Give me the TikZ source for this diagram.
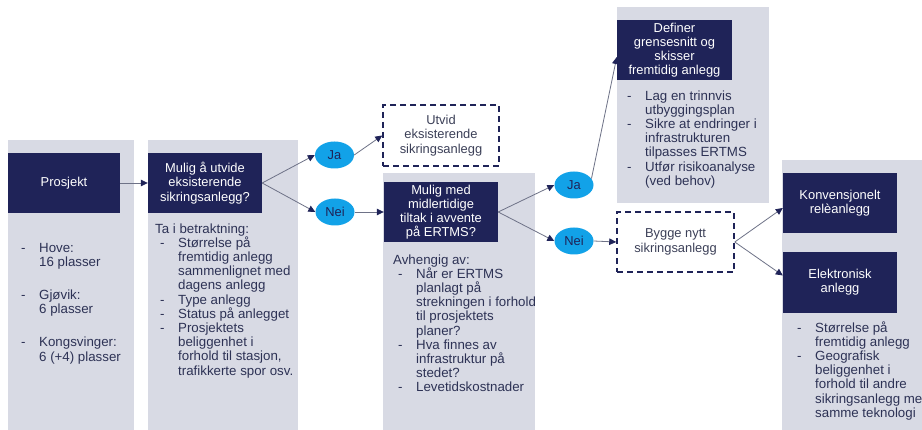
\documentclass[tikz,border=0pt]{standalone}
\usepackage{fontspec}
\setmainfont{Liberation Sans}
\usetikzlibrary{arrows.meta,shapes.geometric,calc}
\definecolor{navy}{RGB}{31,35,88}
\definecolor{panelgray}{RGB}{216,218,228}
\definecolor{ellblue}{RGB}{18,162,232}
\definecolor{txt}{RGB}{45,50,85}
\definecolor{linegray}{RGB}{110,114,135}
\definecolor{dashtxt}{RGB}{60,64,88}
\newcommand\dsh{\makebox[23pt][l]{\hspace{5pt}-}}
\newcommand\ind{\hspace*{23pt}}
\newcommand\fst{\rule{0pt}{11pt}}
\begin{document}
\begin{tikzpicture}[x=1pt,y=-1pt,
  panel/.style={fill=panelgray,draw=none},
  navybox/.style={rectangle,fill=navy,draw=none,text=white,align=center,inner sep=0pt,
    minimum width=114pt,minimum height=60pt,font=\fontsize{12.9}{14.2}\selectfont},
  dashbox/.style={rectangle,draw=navy,line width=1.5pt,dash pattern=on 6pt off 4pt,fill=white,
    text=dashtxt,align=center,inner sep=0pt,minimum width=116pt,minimum height=60pt,
    font=\fontsize{12.9}{14.2}\selectfont},
  answer/.style={ellipse,fill=ellblue,draw=none,text=navy,inner sep=0pt,
    minimum width=39pt,minimum height=27pt,font=\fontsize{12.9}{14.2}\selectfont},
  listtext/.style={anchor=north west,inner sep=0pt,align=left,text=txt,
    font=\fontsize{13.3}{14.2}\selectfont},
  conn/.style={draw=linegray,line width=0.8pt,-{Triangle[width=6.5pt,length=7pt,color=navy]}}
]
\useasboundingbox (0,0) rectangle (922,430);
\clip (0,0) rectangle (922,430);
\fill[white] (0,0) rectangle (922,430);
% panels
\fill[panel] (8,140) rectangle (134,430);
\fill[panel] (148,140) rectangle (298,430);
\fill[panel] (383,173) rectangle (535,430);
\fill[panel] (617,7) rectangle (769,203);
\fill[panel] (782,160) rectangle (922,430);
% navy boxes
\node[navybox,minimum width=112pt] (b1) at (64,183) {Prosjekt};
\node[navybox] (b2) at (205,183) {Mulig å utvide\\eksisterende\\sikringsanlegg?};
\node[navybox] (b3) at (441,212) {Mulig med\\midlertidige\\tiltak i avvente\\på ERTMS?};
\node[navybox,minimum width=115pt] (b4) at (674.5,50) {Definer\\grensesnitt og\\skisser\\fremtidig anlegg};
\node[navybox] (b5) at (840,203) {Konvensjonelt\\relèanlegg};
\node[navybox,minimum height=61pt] (b6) at (840,282.5) {Elektronisk\\anlegg};
% dashed boxes
\node[dashbox,minimum height=61pt] (d1) at (441,135.5) {Utvid\\eksisterende\\sikringsanlegg};
\node[dashbox,minimum width=117pt] (d2) at (675.5,242) {Bygge nytt\\sikringsanlegg};
% answers
\node[answer] (ja) at (334.5,155) {Ja};
\node[answer] (nei) at (335,212) {Nei};
\node[answer] (ja2) at (574,185) {Ja};
\node[answer] (nei2) at (574,241) {Nei};
% lists
\node[listtext] (l1) at (16,241) {\fst\dsh Hove:\\ \ind 16 plasser\\[19pt]
  \dsh Gjøvik:\\ \ind 6 plasser\\[19pt]
  \dsh Kongsvinger:\\ \ind 6 (+4) plasser};
\node[listtext] (l2) at (155,222) {\fst Ta i betraktning:\\
  \dsh Størrelse på\\ \ind fremtidig anlegg\\ \ind sammenlignet med\\ \ind dagens anlegg\\
  \dsh Type anlegg\\
  \dsh Status på anlegget\\
  \dsh Prosjektets\\ \ind beliggenhet i\\ \ind forhold til stasjon,\\ \ind trafikkerte spor osv.};
\node[listtext] (l3) at (393,253) {\fst Avhengig av:\\
  \dsh Når er ERTMS\\ \ind planlagt på\\ \ind strekningen i forhold\\ \ind til prosjektets\\ \ind planer?\\
  \dsh Hva finnes av\\ \ind infrastruktur på\\ \ind stedet?\\
  \dsh Levetidskostnader};
\node[listtext] (l4) at (622,89) {\fst\dsh Lag en trinnvis\\ \ind utbyggingsplan\\
  \dsh Sikre at endringer i\\ \ind infrastrukturen\\ \ind tilpasses ERTMS\\
  \dsh Utfør risikoanalyse\\ \ind (ved behov)};
\node[listtext] (l5) at (792,321) {\fst\dsh Størrelse på\\ \ind fremtidig anlegg\\
  \dsh Geografisk\\ \ind beliggenhet i\\ \ind forhold til andre\\ \ind sikringsanlegg med\\ \ind samme teknologi};
% connectors
\coordinate (b4in) at ($(b4.west)+(0,7)$);
\coordinate (b5in) at ($(b5.west)+(0,5)$);
\coordinate (b6in) at ($(b6.west)+(0,-7)$);
\draw[conn] (b1.east) -- (b2.west);
\draw[conn] (b2.east) -- (ja.west);
\draw[conn] (b2.east) -- (nei.west);
\draw[conn] (ja.east) -- (d1.west);
\draw[conn] (nei.east) -- (b3.west);
\draw[conn] (b3.east) -- (ja2.west);
\draw[conn] (b3.east) -- (nei2.west);
\draw[conn] (ja2.20) -- (b4in);
\draw[conn] (nei2.east) -- (d2.west);
\draw[conn] (d2.east) -- (b5in);
\draw[conn] (d2.east) -- (b6in);
\end{tikzpicture}
\end{document}
